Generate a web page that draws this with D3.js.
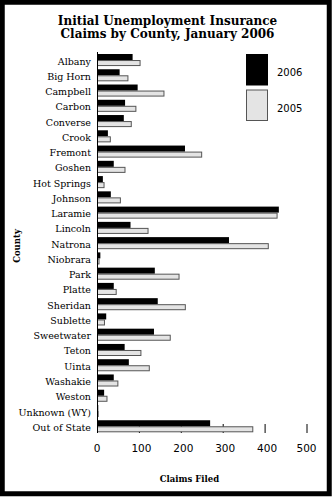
<!DOCTYPE html>
<html>
<head>
<meta charset="utf-8">
<script src="https://cdn.jsdelivr.net/npm/d3@7/dist/d3.min.js"></script>
<style>
  html, body { margin: 0; padding: 0; background: #fff; }
  svg { display: block; }
</style>
</head>
<body>
<svg id="chart" width="332" height="497"></svg>
<script>
// Initial unemployment insurance claims by county, Wyoming
const counties = [
  "Albany", "Big Horn", "Campbell", "Carbon", "Converse", "Crook", "Fremont",
  "Goshen", "Hot Springs", "Johnson", "Laramie", "Lincoln", "Natrona",
  "Niobrara", "Park", "Platte", "Sheridan", "Sublette", "Sweetwater",
  "Teton", "Uinta", "Washakie", "Weston", "Unknown (WY)", "Out of State"
];
const claims2006 = [85, 54, 97, 67, 64, 26, 210, 40, 14, 33, 434, 80, 315,
  8, 138, 40, 145, 22, 136, 66, 76, 40, 17, 3, 270];
const claims2005 = [104, 75, 161, 94, 83, 33, 251, 68, 18, 57, 431, 123, 410,
  6, 197, 47, 212, 19, 176, 106, 126, 51, 25, 4, 373];
const xTicks = [0, 100, 200, 300, 400, 500];
const seriesNames = ["2006", "2005"];

const svg = d3.select("#chart");
const serif = "'DejaVu Serif', serif";
const sans = "'DejaVu Sans', sans-serif";

const x = d3.scaleLinear().domain([0, 500]).range([97, 306.5]);
const y = d3.scaleBand().domain(counties).range([54, 432.3]).paddingInner(0.21).paddingOuter(0);
const half = y.bandwidth() / 2;

const rows = counties.map((c, i) => ({ county: c, v2006: claims2006[i], v2005: claims2005[i] }));

// short upward tick marks on the value axis
svg.append("g")
  .attr("transform", `translate(0,433)`)
  .call(d3.axisBottom(x).tickValues(xTicks).tickSize(-9).tickFormat(""))
  .call(g => g.select(".domain").remove())
  .call(g => g.selectAll("line").attr("stroke", "#000"));

// 2006 bars
svg.append("g").selectAll("rect").data(rows).join("rect")
  .attr("x", x(0))
  .attr("y", d => y(d.county))
  .attr("width", d => x(d.v2006) - x(0))
  .attr("height", half)
  .attr("fill", "#000");

// 2005 bars
svg.append("g").selectAll("rect").data(rows).join("rect")
  .attr("x", x(0) + 0.5)
  .attr("y", d => y(d.county) + half + 0.5)
  .attr("width", d => Math.max(0, x(d.v2005) - x(0) - 1))
  .attr("height", half - 1)
  .attr("fill", "#e4e4e4")
  .attr("stroke", "#555")
  .attr("stroke-width", 1);

// category axis
svg.append("line")
  .attr("x1", x(0) + 0.5).attr("x2", x(0) + 0.5)
  .attr("y1", 52).attr("y2", 433)
  .attr("stroke", "#000");

svg.append("g").selectAll("text").data(counties).join("text")
  .attr("x", 91)
  .attr("y", d => y(d) + y.bandwidth() / 2 + 4.5)
  .attr("text-anchor", "end")
  .attr("font-family", serif)
  .attr("font-size", 9.5)
  .attr("fill", "#000")
  .text(d => d);

// value tick labels
svg.append("g").selectAll("text").data(xTicks).join("text")
  .attr("x", d => x(d) + (d === 0 || d === 500 ? 0 : 2.5))
  .attr("y", 452)
  .attr("text-anchor", "middle")
  .attr("font-family", sans)
  .attr("font-size", 10.5)
  .attr("fill", "#000")
  .text(d => d);

// axis titles
svg.append("text")
  .attr("x", 189.5).attr("y", 482)
  .attr("text-anchor", "middle")
  .attr("font-family", serif).attr("font-weight", "bold").attr("font-size", 8.5)
  .text("Claims Filed");

svg.append("text")
  .attr("transform", "translate(19.5,246) rotate(-90)")
  .attr("text-anchor", "middle")
  .attr("font-family", serif).attr("font-weight", "bold").attr("font-size", 8.5)
  .text("County");

// title
const title = svg.append("text")
  .attr("text-anchor", "middle")
  .attr("font-family", serif).attr("font-weight", "bold").attr("font-size", 12);
title.append("tspan").attr("x", 167.5).attr("y", 25).text("Initial Unemployment Insurance");
title.append("tspan").attr("x", 167.5).attr("y", 37.5).text("Claims by County, January 2006");

// legend
const legend = svg.append("g");
const legendFill = ["#000", "#e4e4e4"];
const legendTop = [54, 89.5];
seriesNames.forEach((name, i) => {
  legend.append("rect")
    .attr("x", i === 0 ? 246 : 246.5)
    .attr("y", i === 0 ? legendTop[i] : legendTop[i] + 0.5)
    .attr("width", i === 0 ? 22 : 21)
    .attr("height", i === 0 ? 31.5 : 30.5)
    .attr("fill", legendFill[i])
    .attr("stroke", i === 0 ? "none" : "#555");
  legend.append("text")
    .attr("x", 277)
    .attr("y", legendTop[i] + 22)
    .attr("font-family", sans).attr("font-size", 10)
    .text(name);
});

// outer frame
svg.append("rect")
  .attr("x", 2.25).attr("y", 2.25)
  .attr("width", 327).attr("height", 491.5)
  .attr("fill", "none")
  .attr("stroke", "#000")
  .attr("stroke-width", 5);
</script>
</body>
</html>
